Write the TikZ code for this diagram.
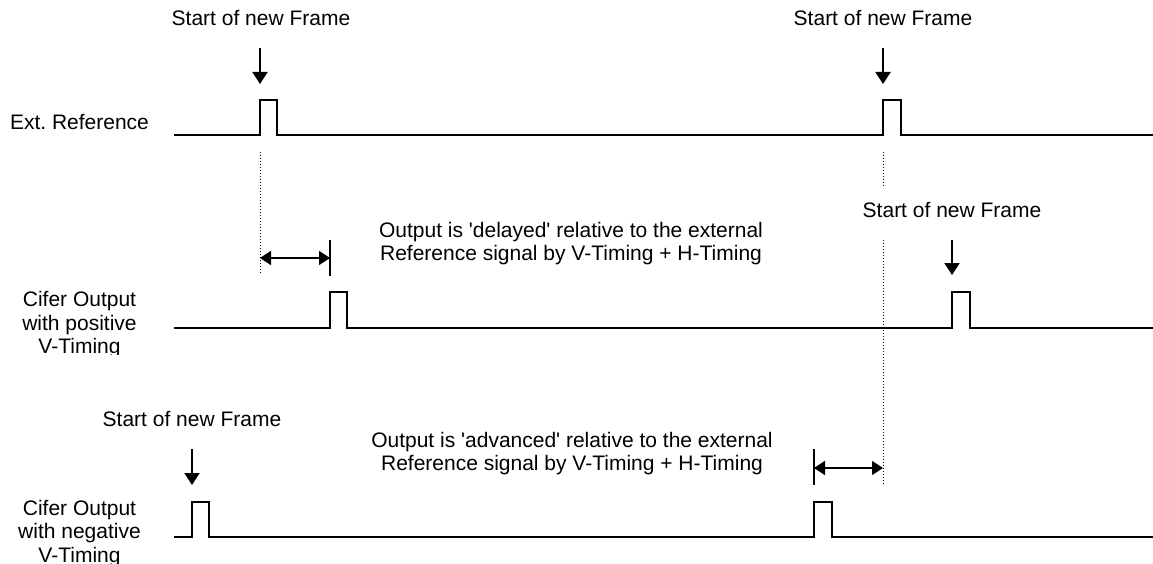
\documentclass[tikz,border=0pt]{standalone}
\usepackage{fontspec}
\setmainfont{Liberation Sans}
\usetikzlibrary{arrows.meta}
\begin{document}
\begin{tikzpicture}[x=1pt,y=-1pt,
  lbl/.style={font=\fontsize{21}{23.5}\selectfont, inner sep=0pt, align=center},
  sig/.style={line width=2pt, line join=miter},
  startarrow/.style={line width=2pt, -{Triangle[width=15pt,length=12pt]}},
  dimarrow/.style={line width=1.6pt, {Triangle[width=14pt,length=11pt]}-{Triangle[width=14pt,length=11pt]}},
  guide/.style={line width=1pt, dash pattern=on 1pt off 2pt},
  tickmark/.style={line width=1.6pt}]
\useasboundingbox (0,0) rectangle (1153,564);

% signal labels (base anchor = baseline of last line)
\node[lbl, anchor=base] (ext) at (79.5,130) {Ext.\ Reference};
\begin{scope}
  \clip (0,280) rectangle (170,354);
  \node[lbl, anchor=base] (cpos) at (79.5,353.5) {Cifer Output\\with positive\\V-Timing};
\end{scope}
\node[lbl, anchor=base] (cneg) at (79.5,562) {Cifer Output\\with negative\\V-Timing};

% frame start labels
\node[lbl, anchor=base] (sf1) at (261,26) {Start of new Frame};
\node[lbl, anchor=base] (sf2) at (883,26) {Start of new Frame};
\node[lbl, anchor=base] (sf3) at (952,218) {Start of new Frame};
\node[lbl, anchor=base] (sf4) at (192,426) {Start of new Frame};

% explanation texts
\node[lbl, anchor=base] (del) at (571,260.5) {Output is \textquotesingle delayed\textquotesingle{} relative to the external\\Reference signal by V-Timing + H-Timing};
\node[lbl, anchor=base] (adv) at (572,470.5) {Output is \textquotesingle advanced\textquotesingle{} relative to the external\\Reference signal by V-Timing + H-Timing};

% waveforms
\draw[sig] (174,135) -- (260,135) -- (260,100) -- (277,100) -- (277,135) -- (883,135) -- (883,100) -- (901,100) -- (901,135) -- (1153,135);
\draw[sig] (174,328) -- (330,328) -- (330,292) -- (347,292) -- (347,328) -- (952,328) -- (952,292) -- (970,292) -- (970,328) -- (1153,328);
\draw[sig] (174,537) -- (192,537) -- (192,502) -- (209,502) -- (209,537) -- (814,537) -- (814,502) -- (832,502) -- (832,537) -- (1153,537);

% frame start arrows
\coordinate (a1s) at (260,48);  \coordinate (a1e) at (260,84);
\coordinate (a2s) at (883,48);  \coordinate (a2e) at (883,84);
\coordinate (a3s) at (952,240); \coordinate (a3e) at (952,275);
\coordinate (a4s) at (192,449); \coordinate (a4e) at (192,485);
\draw[startarrow] (a1s) -- (a1e);
\draw[startarrow] (a2s) -- (a2e);
\draw[startarrow] (a3s) -- (a3e);
\draw[startarrow] (a4s) -- (a4e);

% dotted guides
\coordinate (g1t) at (260,152); \coordinate (g1b) at (260,273);
\coordinate (g2t) at (883,152); \coordinate (g2m) at (883,186);
\coordinate (g2n) at (883,240); \coordinate (g2b) at (883,485);
\draw[guide] (g1t) -- (g1b);
\draw[guide] (g2t) -- (g2m);
\draw[guide] (g2n) -- (g2b);

% ticks
\coordinate (t1t) at (330,240); \coordinate (t1b) at (330,276);
\coordinate (t2t) at (814,449); \coordinate (t2b) at (814,485);
\draw[tickmark] (t1t) -- (t1b);
\draw[tickmark] (t2t) -- (t2b);

% timing offset arrows
\coordinate (d1a) at (260,258); \coordinate (d1b) at (330,258);
\coordinate (d2a) at (814,468); \coordinate (d2b) at (883,468);
\draw[dimarrow] (d1a) -- (d1b);
\draw[dimarrow] (d2a) -- (d2b);
\end{tikzpicture}
\end{document}
